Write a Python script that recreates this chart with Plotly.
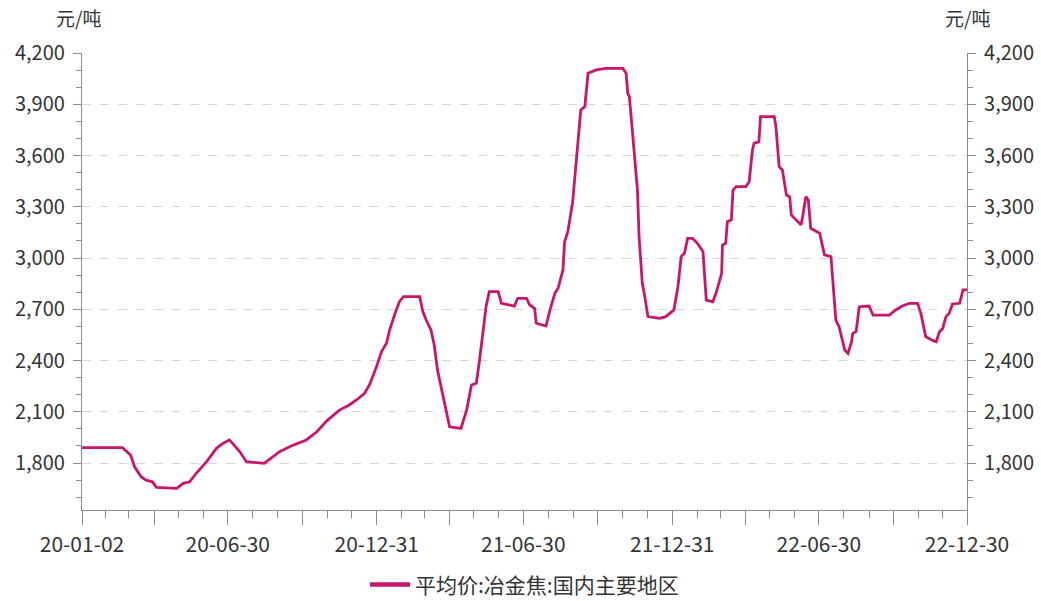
import plotly.graph_objects as go

# ---- data ----
dates = [
    "2020-01-02", "2020-02-21", "2020-03-02", "2020-03-07", "2020-03-15", "2020-03-21",
    "2020-03-29", "2020-04-03", "2020-04-28", "2020-05-06", "2020-05-14", "2020-05-22",
    "2020-06-04", "2020-06-16", "2020-06-24", "2020-07-02", "2020-07-06", "2020-07-15",
    "2020-07-23", "2020-08-08", "2020-08-14", "2020-09-02", "2020-09-19", "2020-10-05",
    "2020-10-18", "2020-10-31", "2020-11-15", "2020-11-27", "2020-12-06", "2020-12-16",
    "2020-12-22", "2020-12-30", "2021-01-06", "2021-01-12", "2021-01-16", "2021-01-22",
    "2021-01-28", "2021-02-02", "2021-02-22", "2021-02-26", "2021-03-02", "2021-03-08",
    "2021-03-12", "2021-03-16", "2021-03-23", "2021-03-27", "2021-03-31", "2021-04-14",
    "2021-04-21", "2021-04-27", "2021-05-03", "2021-05-07", "2021-05-11", "2021-05-15",
    "2021-05-19", "2021-05-30", "2021-06-03", "2021-06-19", "2021-06-23", "2021-07-04",
    "2021-07-08", "2021-07-14", "2021-07-16", "2021-07-28", "2021-08-02", "2021-08-08",
    "2021-08-12", "2021-08-18", "2021-08-20", "2021-08-24", "2021-08-30", "2021-09-05",
    "2021-09-09", "2021-09-14", "2021-09-18", "2021-09-28", "2021-10-10", "2021-10-31",
    "2021-11-04", "2021-11-06", "2021-11-08", "2021-11-12", "2021-11-18", "2021-11-20",
    "2021-11-24", "2021-11-27", "2021-12-01", "2021-12-15", "2021-12-23", "2022-01-02",
    "2022-01-07", "2022-01-11", "2022-01-15", "2022-01-19", "2022-01-25", "2022-01-31",
    "2022-02-07", "2022-02-09", "2022-02-11", "2022-02-19", "2022-02-23", "2022-03-02",
    "2022-03-03", "2022-03-07", "2022-03-09", "2022-03-14", "2022-03-16", "2022-03-20",
    "2022-04-01", "2022-04-05", "2022-04-09", "2022-04-11", "2022-04-17", "2022-04-19",
    "2022-05-06", "2022-05-08", "2022-05-12", "2022-05-16", "2022-05-21", "2022-05-25",
    "2022-05-27", "2022-06-02", "2022-06-08", "2022-06-10", "2022-06-14", "2022-06-17",
    "2022-06-20", "2022-07-01", "2022-07-07", "2022-07-15", "2022-07-21", "2022-07-25",
    "2022-08-01", "2022-08-05", "2022-08-09", "2022-08-11", "2022-08-15", "2022-08-19",
    "2022-08-31", "2022-09-05", "2022-09-25", "2022-10-03", "2022-10-11", "2022-10-20",
    "2022-10-30", "2022-11-03", "2022-11-09", "2022-11-18", "2022-11-22", "2022-11-26",
    "2022-11-30", "2022-12-04", "2022-12-08", "2022-12-12", "2022-12-21", "2022-12-25",
    "2022-12-30",
]
prices = [
    1890, 1890, 1847, 1778, 1720, 1700,
    1690, 1657, 1652, 1681, 1690, 1740,
    1808, 1886, 1915, 1935, 1915, 1866,
    1808, 1798, 1798, 1866, 1905, 1935,
    1983, 2050, 2110, 2140, 2169, 2208,
    2257, 2354, 2452, 2501, 2579, 2666,
    2744, 2774, 2774, 2686, 2637, 2579,
    2491, 2344, 2188, 2120, 2012, 2003,
    2110, 2257, 2267, 2403, 2579, 2715,
    2803, 2803, 2735, 2719, 2764, 2764,
    2725, 2705, 2618, 2602, 2696, 2793,
    2823, 2930, 3095, 3154, 3330, 3632,
    3866, 3886, 4081, 4101, 4110, 4110,
    4081, 3964, 3944, 3730, 3398, 3125,
    2852, 2774, 2657, 2647, 2657, 2696,
    2832, 3008, 3028, 3115, 3115, 3086,
    3037, 2891, 2754, 2744, 2793, 2910,
    3076, 3086, 3213, 3223, 3398, 3418,
    3418, 3447, 3632, 3671, 3681, 3827,
    3827, 3769, 3535, 3515, 3369, 3359,
    3252, 3223, 3194, 3242, 3359, 3340,
    3174, 3145, 3018, 3008, 2637, 2598,
    2461, 2442, 2501, 2559, 2569, 2715,
    2719, 2666, 2666, 2696, 2719, 2735,
    2735, 2676, 2540, 2516, 2510, 2569,
    2588, 2657, 2676, 2731, 2735, 2813,
    2813,
]
series_name = "平均价:冶金焦:国内主要地区"
unit = "元/吨"

y_tickvals = [1800, 2100, 2400, 2700, 3000, 3300, 3600, 3900, 4200]
y_ticktext = ["1,800", "2,100", "2,400", "2,700", "3,000", "3,300", "3,600", "3,900", "4,200"]
y_minor = [1600, 1700, 1900, 2000, 2200, 2300, 2500, 2600, 2800, 2900, 3100, 3200,
           3400, 3500, 3700, 3800, 4000, 4100]

x_tickvals = ["2020-01-02", "2020-03-31", "2020-06-30", "2020-09-30", "2020-12-31",
              "2021-03-31", "2021-06-30", "2021-09-30", "2021-12-31", "2022-03-31",
              "2022-06-30", "2022-09-30", "2022-12-30"]
x_ticktext = ["20-01-02", "", "20-06-30", "", "20-12-31", "", "21-06-30", "",
              "21-12-31", "", "22-06-30", "", "22-12-30"]
x_minor = ["2020-01-31", "2020-02-29", "2020-04-30", "2020-05-31", "2020-07-31",
           "2020-08-31", "2020-10-31", "2020-11-30", "2021-01-31", "2021-02-28",
           "2021-04-30", "2021-05-31", "2021-07-31", "2021-08-31", "2021-10-31",
           "2021-11-30", "2022-01-31", "2022-02-28", "2022-04-30", "2022-05-31",
           "2022-07-31", "2022-08-31", "2022-10-31", "2022-11-30"]

LINE_COLOR = "#C8166C"
AXIS_COLOR = "#8c8c8c"
TEXT_COLOR = "#333333"
FONT = "Noto Sans CJK SC, Noto Sans, sans-serif"

fig = go.Figure()
fig.add_trace(go.Scatter(
    x=dates, y=prices, mode="lines", name=series_name, showlegend=False,
    line=dict(color=LINE_COLOR, width=2.8),
))
# legend-only entry with the thicker swatch seen in the reference
fig.add_trace(go.Scatter(
    x=[None], y=[None], mode="lines", name=series_name, showlegend=True,
    line=dict(color=LINE_COLOR, width=4.5),
))
# invisible copy so the right-hand axis is drawn
fig.add_trace(go.Scatter(
    x=dates, y=prices, mode="lines", yaxis="y2", showlegend=False,
    hoverinfo="skip", line=dict(color="rgba(0,0,0,0)", width=0.1),
))

yaxis_common = dict(
    range=[1525, 4200],
    tickmode="array", tickvals=y_tickvals, ticktext=y_ticktext,
    ticks="outside", ticklen=8, tickwidth=1, tickcolor=AXIS_COLOR,
    showline=True, linecolor=AXIS_COLOR, linewidth=1.2,
    tickfont=dict(family=FONT, size=20, color=TEXT_COLOR),
    ticklabelstandoff=4,
    minor=dict(tickmode="array", tickvals=y_minor, ticks="outside",
               ticklen=5, tickcolor=AXIS_COLOR, showgrid=False),
    zeroline=False, fixedrange=True, automargin=False,
)

fig.update_layout(
    width=1041, height=601,
    margin=dict(l=82, r=74, t=53, b=91, autoexpand=False),
    paper_bgcolor="white", plot_bgcolor="white",
    font=dict(family=FONT, color=TEXT_COLOR),
    xaxis=dict(
        range=["2020-01-02", "2022-12-30"],
        tickmode="array", tickvals=x_tickvals, ticktext=x_ticktext,
        ticks="outside", ticklen=14, tickwidth=1, tickcolor=AXIS_COLOR,
        showline=True, linecolor=AXIS_COLOR, linewidth=1.2,
        showgrid=False, zeroline=False, automargin=False,
        tickfont=dict(family=FONT, size=21, color=TEXT_COLOR),
        ticklabelstandoff=2,
        minor=dict(tickmode="array", tickvals=x_minor, ticks="outside",
                   ticklen=7, tickcolor=AXIS_COLOR, showgrid=False),
    ),
    yaxis=dict(
        **yaxis_common,
        showgrid=True, gridcolor="#d6d6d6", griddash="dash", gridwidth=1,
        side="left",
    ),
    yaxis2=dict(
        **yaxis_common,
        overlaying="y", side="right", showgrid=False,
    ),
    legend=dict(
        orientation="h", x=0.5, xanchor="center", y=-0.164, yanchor="middle",
        font=dict(family=FONT, size=21, color=TEXT_COLOR),
        itemwidth=40,
    ),
    showlegend=True,
    annotations=[
        dict(text=unit, xref="paper", yref="paper", x=0.0, y=1.0,
             xanchor="center", yanchor="bottom", yshift=20, xshift=-4,
             showarrow=False, font=dict(family=FONT, size=19, color=TEXT_COLOR)),
        dict(text=unit, xref="paper", yref="paper", x=1.0, y=1.0,
             xanchor="center", yanchor="bottom", yshift=20, xshift=0,
             showarrow=False, font=dict(family=FONT, size=19, color=TEXT_COLOR)),
    ],
)

fig.write_html("out.html")
